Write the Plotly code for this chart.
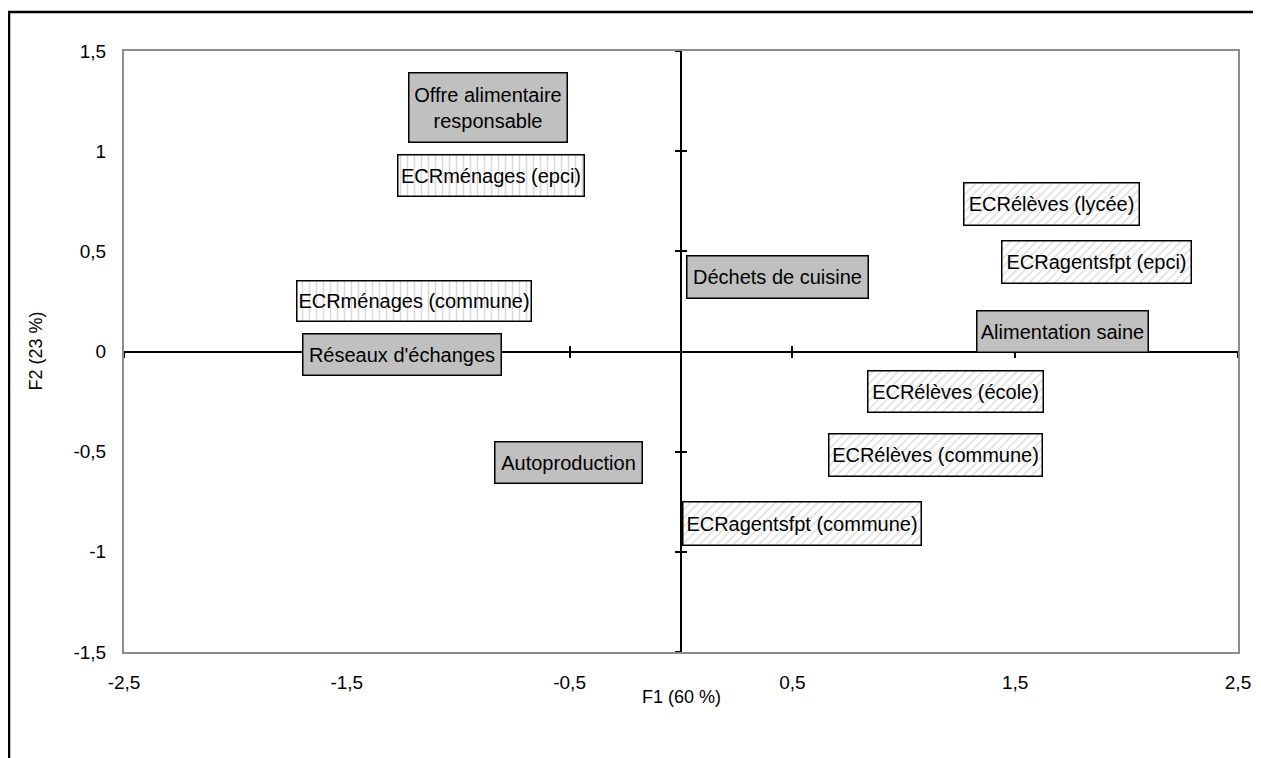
import plotly.graph_objects as go

# Coordonnées des modalités sur le plan factoriel F1 x F2
labels = [
    "Offre alimentaire<br>responsable",
    "ECRménages (epci)",
    "ECRménages (commune)",
    "Réseaux d'échanges",
    "Déchets de cuisine",
    "Autoproduction",
    "ECRélèves (lycée)",
    "ECRagentsfpt (epci)",
    "Alimentation saine",
    "ECRélèves (école)",
    "ECRélèves (commune)",
    "ECRagentsfpt (commune)",
]
f1 = [-0.866, -0.853, -1.198, -1.252, 0.435, -0.505, 1.663, 1.865, 1.712, 1.232, 1.142, 0.543]
f2 = [1.218, 0.879, 0.252, -0.015, 0.372, -0.554, 0.736, 0.447, 0.10, -0.20, -0.517, -0.859]
groups = ["var", "menages", "menages", "var", "var", "var",
          "eleves", "eleves", "var", "eleves", "eleves", "eleves"]

x_ticks = [-2.5, -1.5, -0.5, 0.5, 1.5, 2.5]
x_ticktext = ["-2,5", "-1,5", "-0,5", "0,5", "1,5", "2,5"]
y_ticks = [-1.5, -1, -0.5, 0, 0.5, 1, 1.5]
y_ticktext = ["-1,5", "-1", "-0,5", "0", "0,5", "1", "1,5"]

# box sizes in pixels (style)
box_w = [160, 188, 236, 200, 183, 149, 177, 191, 173, 177, 215, 240]
box_h = [71, 43, 42, 43, 44, 43, 44, 44, 43, 43, 44, 45]

# the page body adds an 8 px offset, so the figure is 8 px smaller
W, H = 1253, 750
ML, MR, MT, MB = 116, 23, 43, 106
px_x = (W - ML - MR) / 5.0
px_y = (H - MT - MB) / 3.0

FONT = "Liberation Sans, Arial, sans-serif"

fig = go.Figure()

# patterned boxes drawn as horizontal bars behind the labels
patterns = {"menages": "|", "eleves": "/"}
for i, g in enumerate(groups):
    if g not in patterns:
        continue
    wd = box_w[i] / px_x
    fig.add_trace(go.Bar(
        orientation="h",
        y=[f2[i]], x=[wd], base=[f1[i] - wd / 2],
        width=[box_h[i] / px_y],
        marker=dict(color="white", line=dict(width=0),
                    pattern=dict(shape=patterns[g], fgcolor="#b4b4b4",
                                 bgcolor="white",
                                 size=7 if g == "menages" else 6,
                                 solidity=0.22)),
        showlegend=False, hoverinfo="skip",
    ))

# invisible traces so the axes crossing at the origin are drawn
fig.add_trace(go.Scatter(x=[None], y=[None], xaxis="x2", yaxis="y2", showlegend=False))
fig.add_trace(go.Scatter(x=[None], y=[None], xaxis="x3", yaxis="y3", showlegend=False))

for i, lab in enumerate(labels):
    fig.add_annotation(
        x=f1[i], y=f2[i], xref="x", yref="y",
        text=lab, showarrow=False,
        font=dict(family=FONT, size=20, color="black"),
        bgcolor="#c0c0c0" if groups[i] == "var" else "rgba(0,0,0,0)",
        bordercolor="black", borderwidth=1.5, borderpad=0,
        width=box_w[i] - 3, height=box_h[i] - 3,
        align="center", valign="middle",
    )

# axis titles
fig.add_annotation(x=0.5, y=0, xref="paper", yref="paper", yanchor="middle",
                   yshift=-45, text="F1 (60 %)", showarrow=False,
                   font=dict(family=FONT, size=18))
fig.add_annotation(x=0, y=0.5, xref="paper", yref="paper", xanchor="center",
                   xshift=-89, textangle=-90, text="F2 (23 %)", showarrow=False,
                   font=dict(family=FONT, size=18))

# outer frame
fig.add_shape(type="rect", xref="paper", yref="paper",
              x0=(1 - ML) / (W - ML - MR), x1=1.2,
              y0=-0.5, y1=(H - MB - 4) / (H - MT - MB),
              line=dict(color="black", width=2.5), layer="below")

cross = dict(showline=True, linecolor="black", linewidth=2,
             tickcolor="black", tickwidth=1.5, ticklen=5,
             showticklabels=False, showgrid=False, zeroline=False,
             anchor="free", position=0.5, layer="below traces")

fig.update_layout(
    width=W, height=H,
    margin=dict(l=ML, r=MR, t=MT, b=MB),
    paper_bgcolor="white", plot_bgcolor="white",
    barmode="overlay",
    font=dict(family=FONT, size=19, color="black"),
    xaxis=dict(range=[-2.5, 2.5], tickvals=x_ticks, ticktext=x_ticktext,
               showline=True, mirror=True, linecolor="#8c8c8c", linewidth=2,
               showgrid=False, zeroline=False, ticks="", ticklabelstandoff=12,
               automargin=False),
    yaxis=dict(range=[-1.5, 1.5], tickvals=y_ticks, ticktext=y_ticktext,
               showline=True, mirror=True, linecolor="#8c8c8c", linewidth=2,
               showgrid=False, zeroline=False, ticks="", ticklabelstandoff=12,
               automargin=False),
    xaxis2=dict(overlaying="x", range=[-2.5, 2.5], ticks="outside",
                tickvals=[-2.5, -1.5, -0.5, 0.5, 1.5, 2.5], **cross),
    xaxis3=dict(overlaying="x", range=[-2.5, 2.5], ticks="inside",
                tickvals=[-2.5, -1.5, -0.5, 0.5, 1.5, 2.5], **cross),
    yaxis2=dict(overlaying="y", range=[-1.5, 1.5], ticks="outside",
                tickvals=[-1.5, -1, -0.5, 0.5, 1, 1.5], **cross),
    yaxis3=dict(overlaying="y", range=[-1.5, 1.5], ticks="inside",
                tickvals=[-1.5, -1, -0.5, 0.5, 1, 1.5], **cross),
)

fig.write_html("out.html")
